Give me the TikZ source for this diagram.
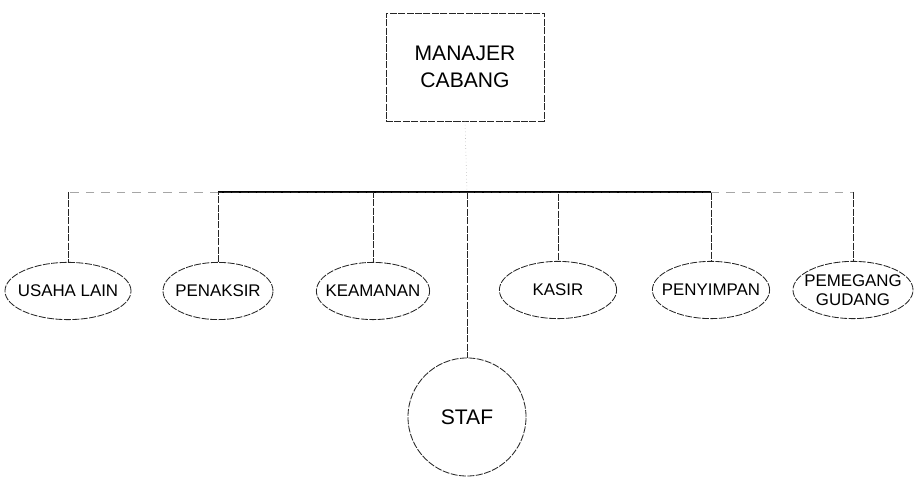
\documentclass[tikz,border=0pt]{standalone}
\usepackage{fontspec}
\setmainfont{Liberation Sans}
\usetikzlibrary{shapes.geometric}

\begin{document}
\begin{tikzpicture}[x=0.025cm, y=-0.025cm, font=\fontsize{12}{13.5}\selectfont]
	\tikzset{
		scanline/.style={draw=black!85, line width=0.6pt, dash pattern=on 5pt off 1pt},
		faintline/.style={draw=black!35, line width=0.6pt, dash pattern=on 6pt off 5pt},
		unit/.style={scanline, ellipse, inner xsep=-8pt, inner ysep=0pt, minimum height=1.43cm, align=center},
		boss/.style={scanline, rectangle, minimum width=3.95cm, minimum height=2.7cm, align=center, font=\fontsize{15}{19}\selectfont}
	}
	\useasboundingbox (0,0) rectangle (914,477);

	% kepala
	\node[boss] (manajer) at (465,67) {MANAJER\\CABANG};

	% bagian
	\node[unit, minimum width=3.15cm] (usaha) at (68,291) {USAHA LAIN};
	\node[unit, minimum width=2.75cm] (penaksir) at (218,291) {PENAKSIR};
	\node[unit, minimum width=2.83cm] (keamanan) at (373,291) {KEAMANAN};
	\node[unit, minimum width=2.93cm] (kasir) at (558,290) {KASIR};
	\node[unit, minimum width=2.93cm] (penyimpan) at (711,290) {PENYIMPAN};
	\node[unit, minimum width=3.0cm] (pemegang) at (853,290) {PEMEGANG\\GUDANG};
	\node[scanline, circle, minimum size=2.95cm, font=\fontsize{15}{18}\selectfont] (staf) at (467,417) {STAF};

	% garis
	\coordinate (bus) at (467,192);
	\draw[black!40, dotted] (manajer.south) -- (bus);
	\draw[line width=0.8pt] (penaksir.north |- bus) -- (penyimpan.north |- bus);
	\draw[faintline] (penaksir.north |- bus) -- (usaha.north |- bus);
	\draw[faintline] (penyimpan.north |- bus) -- (pemegang.north |- bus);
	\draw[scanline] (usaha.north |- bus) -- (usaha.north);
	\draw[scanline] (bus) -| (penaksir.north);
	\draw[scanline] (bus) -| (keamanan.north);
	\draw[scanline] (bus) -- (staf.north);
	\draw[scanline] (bus) -| (kasir.north);
	\draw[scanline] (bus) -| (penyimpan.north);
	\draw[scanline] (pemegang.north |- bus) -- (pemegang.north);
\end{tikzpicture}
\end{document}
